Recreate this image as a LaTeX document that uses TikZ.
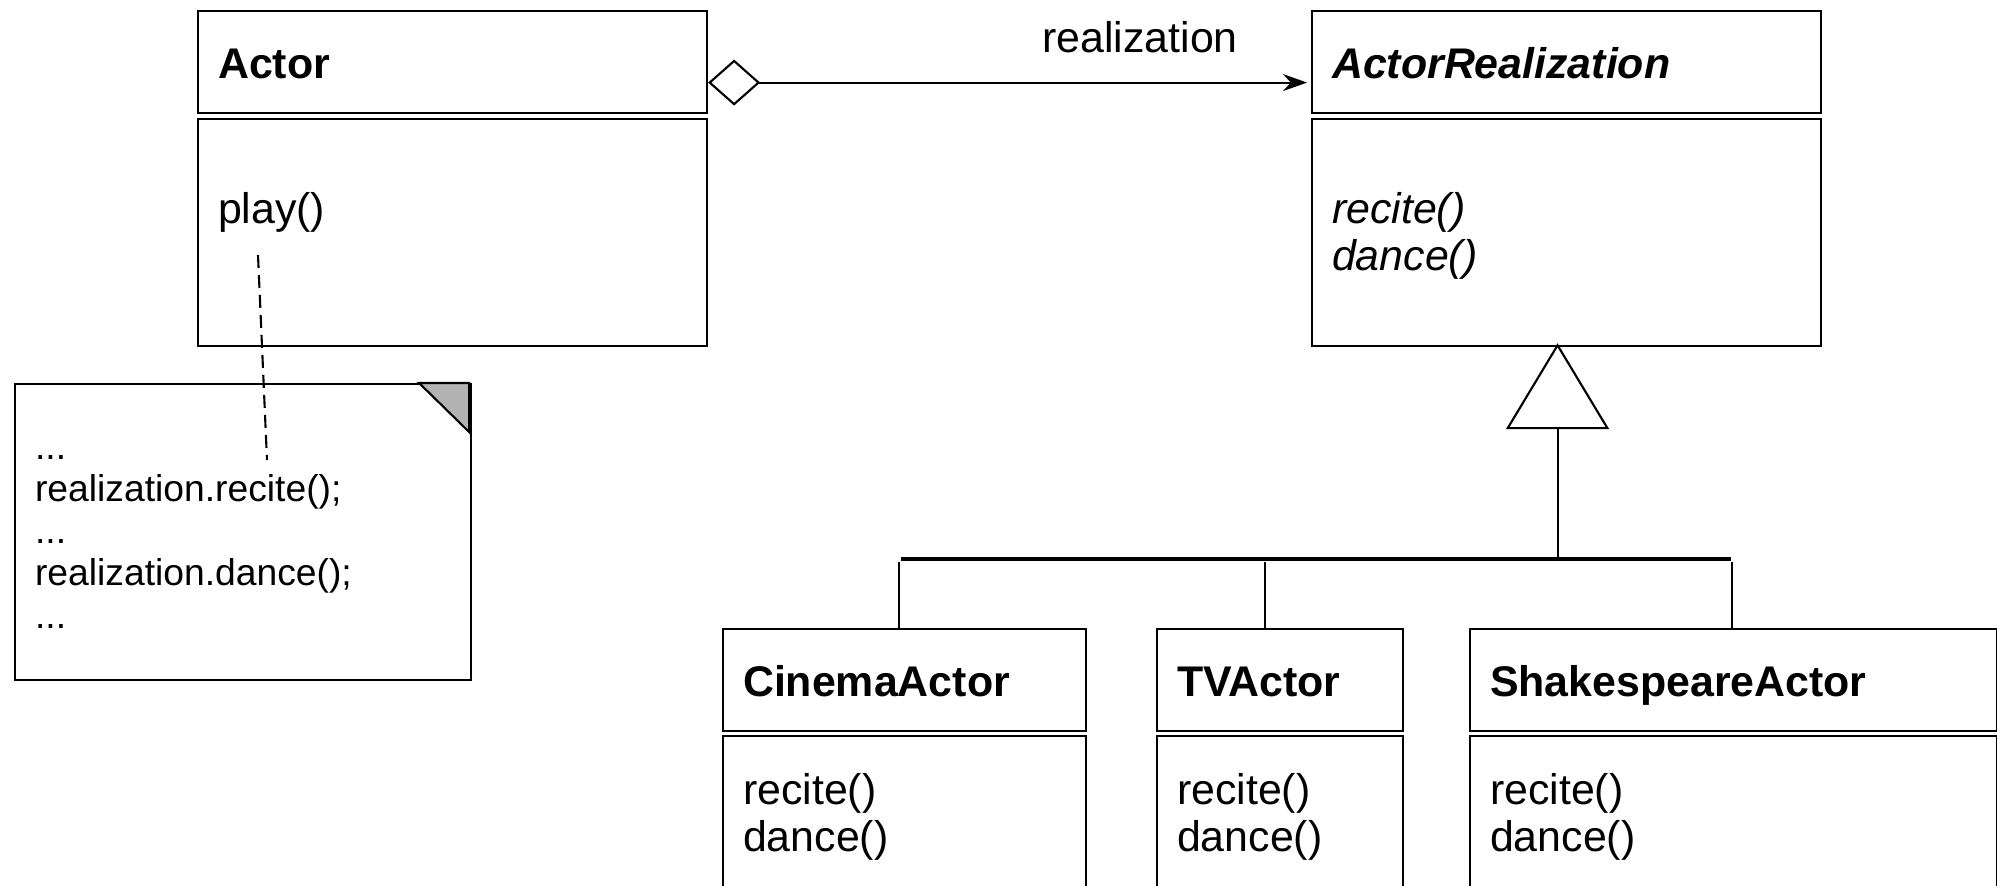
\documentclass[tikz,border=0pt]{standalone}
\usepackage{fontspec}
\setmainfont{Liberation Sans}
\usetikzlibrary{arrows.meta}

\definecolor{foldgray}{RGB}{179,179,179}

\tikzset{
  classname/.style={draw, anchor=north west, inner xsep=0.2cm, inner ysep=0pt,
    minimum height=1.02cm, text height=0.32cm, text depth=0pt, align=left,
    font=\fontsize{12.2}{13.4}\selectfont\bfseries},
  classbody/.style={draw, anchor=north west, inner sep=0pt},
  opslist/.style={anchor=north west, inner sep=0pt, align=left,
    font=\fontsize{12.2}{13.4}\selectfont},
  notebox/.style={draw, anchor=north west, minimum width=4.56cm, minimum height=2.96cm,
    text width=4.16cm, inner xsep=0.2cm, align=left,
    font=\fontsize{10.6}{12}\selectfont},
  aggr/.style={{Diamond[open,length=0.52cm,width=0.46cm]}-{Stealth[length=0.24cm,width=0.17cm]}},
  gen/.style={-{Triangle[open,length=0.86cm,width=1.03cm]}},
  notelink/.style={dash pattern=on 0.13cm off 0.07cm}
}

\begin{document}
\begin{tikzpicture}[semithick]

\useasboundingbox (0,0) rectangle (19.97,-8.85);
\clip (0,0) rectangle (19.97,-8.85);

% Actor and its realization
\node[classname, text width=4.69cm] (actor) at (1.97,-0.10) {Actor};
\node[classbody, minimum width=5.09cm, minimum height=2.27cm] (actor-body) at ([yshift=-0.04cm]actor.south west) {};
\node[opslist] (actor-ops) at ([shift={(0.2,-0.73)}]actor-body.north west) {play()};

\node[classname, text width=4.69cm] (realiz) at (13.11,-0.10) {\itshape ActorRealization};
\node[classbody, minimum width=5.09cm, minimum height=2.27cm] (realiz-body) at ([yshift=-0.04cm]realiz.south west) {};
\node[opslist] (realiz-ops) at ([shift={(0.2,-0.73)}]realiz-body.north west) {\itshape recite()\\\itshape dance()};

% Aggregation
\draw[aggr, shorten >=0.04cm] ([yshift=-0.205cm]actor.east) -- ([yshift=-0.205cm]realiz.west);
\node[anchor=base, font=\fontsize{12.2}{13.4}\selectfont] (rel-label) at (11.40,-0.52) {realization};

% Note
\node[notebox] (note) at (0.14,-3.83) {\strut...\\realization.recite();\\...\\realization.dance();\\...\rule[-1.8pt]{0pt}{1pt}};
\filldraw[fill=foldgray] ([xshift=-0.53cm]note.north east) -- ([xshift=-0.03cm]note.north east)
  -- ([shift={(-0.03,-0.49)}]note.north east) -- cycle;
\coordinate (play-hook) at (2.58,-2.55);
\coordinate (note-hook) at (2.67,-4.60);
\draw[notelink] (play-hook) -- (note-hook);

% Subclasses
\foreach \name/\title/\x/\w/\tw in {cinema/CinemaActor/7.22/3.63cm/3.23cm,
    tv/TVActor/11.56/2.46cm/2.06cm, shakes/ShakespeareActor/14.69/5.27cm/4.87cm} {
  \node[classname, text width=\tw] (\name) at (\x,-6.28) {\title};
  \node[classbody, minimum width=\w, minimum height=2.0cm] (\name-body) at ([yshift=-0.03cm]\name.south west) {};
  \node[opslist] (\name-ops) at ([shift={(0.2,-0.37)}]\name-body.north west) {recite()\\dance()};
}

% Generalization
\coordinate (gen-apex) at ([shift={(-0.09,0.04)}]realiz-body.south);
\coordinate (gen-join) at (gen-apex |- 0,-5.59);
\coordinate (bar-left) at (9.01,-5.59);
\coordinate (bar-right) at (17.31,-5.59);
\draw[gen] (gen-join) -- (gen-apex);
\draw[line width=1.2pt] (bar-left) -- (bar-right);
\foreach \name/\x in {cinema/8.99, tv/12.65, shakes/17.32} {
  \draw[thin] (\x,-5.62) -- (\x,0 |- \name.north);
}

\end{tikzpicture}
\end{document}
